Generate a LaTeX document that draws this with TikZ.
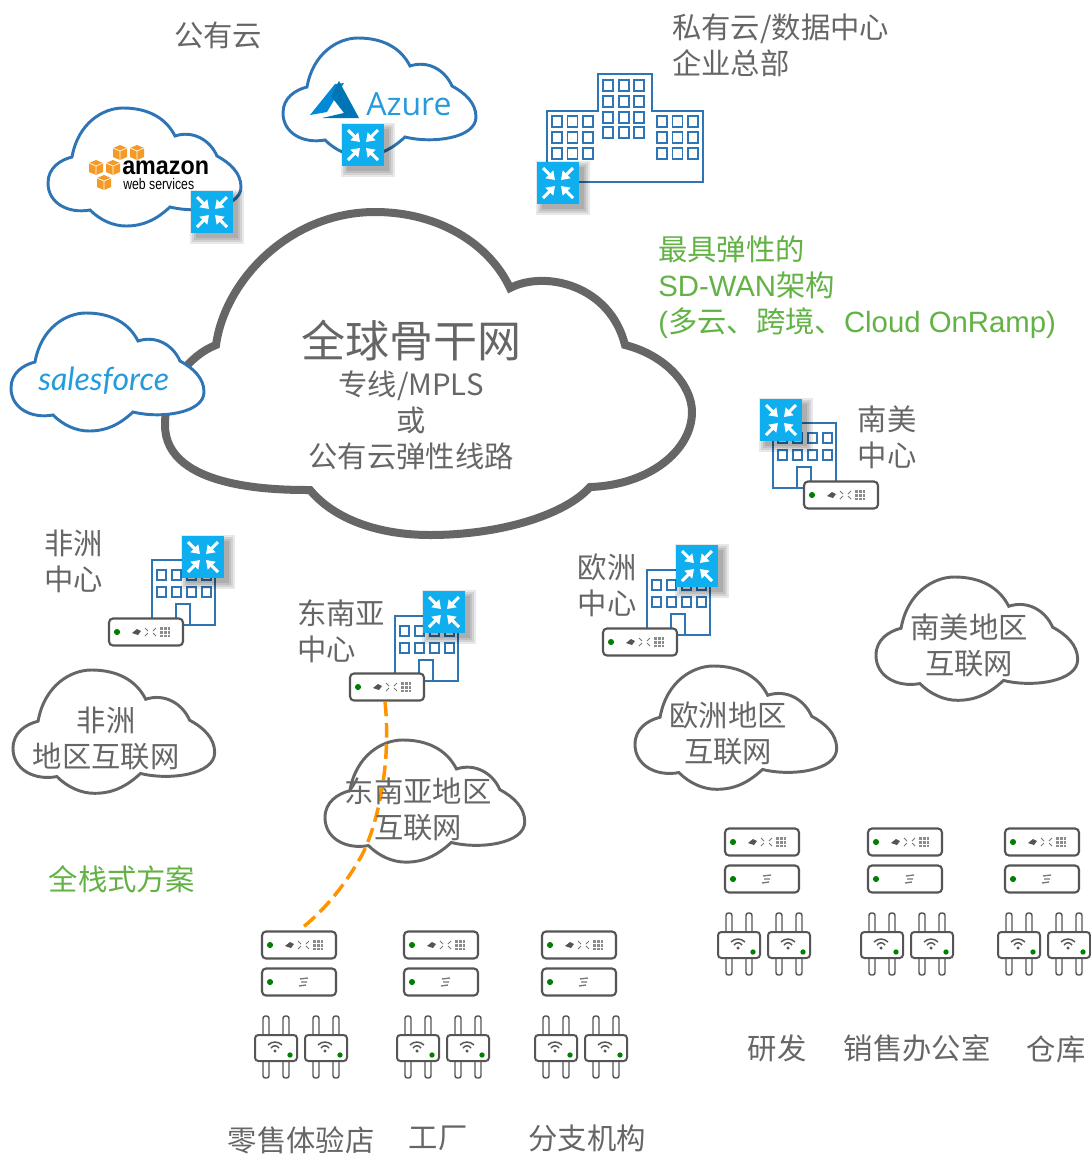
\documentclass[tikz,border=0pt]{standalone}
\usepackage{fontspec}
\usepackage{graphicx}
\setmainfont{Liberation Sans}
\newfontfamily\cjk{Noto Sans CJK SC}
\newfontfamily\azfont{Open Sans}
\newfontfamily\sffont{Lato}
\usetikzlibrary{arrows.meta}
\definecolor{tgrey}{HTML}{666666}
\definecolor{dgrey}{HTML}{555555}
\definecolor{lgreen}{HTML}{70AD47}
\definecolor{tgreen}{HTML}{62B245}
\definecolor{cblue}{HTML}{2E75B6}
\definecolor{rblue}{HTML}{0EAEEF}
\definecolor{aorange}{HTML}{F39A27}
\definecolor{azblue}{HTML}{0089D6}
\def\px{0.75pt}
\tikzset{
  x=0.75pt,y=-0.75pt,
  link/.style={draw=lgreen,line width=1pt},
  thincloud/.style={draw=tgrey,fill=white,line width=2.2pt},
  bluecloud/.style={draw=cblue,fill=white,line width=2.2pt},
  bigcloud/.style={draw=tgrey,fill=white,line width=6pt},
  routerbox/.style={fill=rblue,draw=none,minimum size=42*\px,inner sep=0pt},
  rarrow/.style={draw=white,line width=2.2pt,-{Triangle[length=6pt,width=8pt]}},
  devbox/.style={draw=dgrey,fill=white,line width=1.6pt,rounded corners=3pt,minimum width=74*\px,minimum height=27*\px,inner sep=0pt},
  apbox/.style={draw=dgrey,fill=white,line width=1.5pt,rounded corners=2.5pt,minimum width=42*\px,minimum height=26*\px,inner sep=0pt},
  antenna/.style={draw=dgrey,fill=white,line width=1.1pt,rounded corners=1.8pt},
  bld/.style={draw=cblue,line width=1.5pt},
  win/.style={draw=cblue,line width=1.3pt},
  ledg/.style={fill=green!50!black,draw=none},
  icon/.style={draw=dgrey!80,line width=.7pt},
  lbl/.style={inner sep=0pt,text=tgrey,align=center,font=\cjk\fontsize{22}{27}\selectfont},
  glbl/.style={inner sep=0pt,text=tgreen,align=left,font=\fontsize{22}{27}\selectfont},
}
% cloud outline: reference size 193x118 px, origin top-left
\newcommand\cloudpath[4]{% style, x, y, scale
\begin{scope}[shift={(#2,#3)},x=#4*\px,y=-#4*\px]
\path[#1] (24,49) .. controls (30,15) and (55,0) .. (75,0) .. controls (100,0) and (118,10) .. (127,28)
 .. controls (145,22) and (162,32) .. (169,48) .. controls (182,55) and (193,65) .. (193,79)
 .. controls (193,100) and (150,106) .. (122,99) .. controls (108,112) and (95,118) .. (78,118)
 .. controls (65,118) and (52,112) .. (42,102) .. controls (20,106) and (0,95) .. (0,75)
 .. controls (0,60) and (12,52) .. (24,49) -- cycle;
\end{scope}}
\newcommand\router[3]{% name,x,y
\foreach \s in {6,4,2,0}{\fill[black,opacity=.09] (#2+5-21-\s,#3+5-21-\s) rectangle (#2+5+21+\s,#3+5+21+\s);}
\node[routerbox] (#1) at (#2,#3) {};
\begin{scope}[shift={(#2,#3)}]
\draw[rarrow] (-15,-15) -- (-3,-3);
\draw[rarrow] (15,-15) -- (3,-3);
\draw[rarrow] (-15,15) -- (-3,3);
\draw[rarrow] (15,15) -- (3,3);
\end{scope}}
\newcommand\devA[3]{%
\node[devbox] (#1) at (#2,#3) {};
\begin{scope}[shift={(#2,#3)}]
\fill[ledg] (-29,0) circle (2.3pt);
\fill[dgrey] (-14,1) -- (-9,-3) -- (-5,-1) -- (-8,3) -- cycle;
\draw[icon] (-1,-4) -- (2,-1) (-1,4) -- (2,1) (10,-4) -- (7,-1) (10,4) -- (7,1);
\fill[black!45] (14,-5) rectangle (24,5);
\draw[white,line width=.4pt] (17,-5) -- (17,5) (21,-5) -- (21,5) (14,-2) -- (24,-2) (14,2) -- (24,2);
\end{scope}}
\newcommand\devB[3]{%
\node[devbox] (#1) at (#2,#3) {};
\begin{scope}[shift={(#2,#3)}]
\fill[ledg] (-29,0) circle (2.3pt);
\draw[icon,line width=1pt] (1,-3) -- (9,-4) (2,0) -- (8,0) (0,4) -- (7,3);
\end{scope}}
\newcommand\accesspoint[3]{%
\begin{scope}[shift={(#2,#3)}]
\path[antenna] (-13,-32) rectangle (-7,30);
\path[antenna] (7,-32) rectangle (13,30);
\node[apbox] (#1) at (0,0) {};
\fill[dgrey] (-1,3) circle (1.3pt);
\draw[dgrey,line width=1.1pt] (-5,0) .. controls (-3,-3) and (1,-3) .. (3,0);
\draw[dgrey,line width=1.1pt] (-8,-3) .. controls (-4,-7) and (2,-7) .. (6,-3);
\fill[ledg] (14,7) circle (2pt);
\end{scope}}
% device stack: name, centre x, row y of the first device
\newcommand\stack[3]{%
\devA{#1a}{#2}{#3}\devB{#1b}{#2}{#3+37}
\accesspoint{#1l}{#2-23}{#3+103}\accesspoint{#1r}{#2+27}{#3+103}}
\newcommand\smallbld[3]{%
\begin{scope}[shift={(#2,#3)}]
\path[bld,fill=white] (0,0) rectangle (63,65);
\foreach \cx in {5,20,35,50}{\foreach \cy in {10,27}{\path[win] (\cx,\cy) rectangle (\cx+9,\cy+10);}}
\path[bld] (24,65) -- (24,44) -- (38,44) -- (38,65);
\end{scope}}
\newcommand\cube[2]{%
\begin{scope}[shift={(#1,#2)}]
\fill[aorange] (-7,-4) -- (0,-7) -- (7,-4) -- (7,5) -- (0,8) -- (-7,5) -- cycle;
\draw[white,line width=.5pt] (-7,-4) -- (0,-1) -- (7,-4) (0,-1) -- (0,8);
\end{scope}}
\begin{document}
\begin{tikzpicture}
\useasboundingbox (0,0) rectangle (1090,1154);
\fill[white] (0,0) rectangle (1090,1154);
% cloud attachment points
\coordinate (mA) at (252,270);
\coordinate (mB) at (380,212);
\coordinate (mC) at (535,280);
\coordinate (mD) at (692,407);
\coordinate (mE) at (662,476);
\coordinate (mF) at (430,538);
\coordinate (mG) at (220,480);
\coordinate (saTop) at (950,580);
\coordinate (afTop) at (130,692);
\coordinate (euTop) at (697,670);
\coordinate (seTopA) at (400,745);
\coordinate (seTopB) at (406,745);
\coordinate (seBotA) at (350,842);
\coordinate (seBotB) at (412,862);
\coordinate (seBotC) at (426,862);
\coordinate (seBotD) at (505,842);
\coordinate (euBot) at (730,785);
% positions of the nodes come later: declare links after nodes, on a lower layer
\pgfdeclarelayer{back}\pgfsetlayers{back,main}
% clouds
\path[bigcloud] (216,345) .. controls (225,280) and (290,212) .. (375,212) .. controls (440,212) and (490,245) .. (510,288)
 .. controls (545,270) and (610,285) .. (625,345) .. controls (665,355) and (692,385) .. (692,412)
 .. controls (692,450) and (650,485) .. (590,487) .. controls (565,515) and (500,535) .. (430,535)
 .. controls (380,535) and (335,520) .. (310,490) .. controls (280,490) and (165,490) .. (165,425)
 .. controls (165,385) and (190,355) .. (216,345) -- cycle;
\cloudpath{bluecloud}{48}{108}{1}
\cloudpath{bluecloud}{283}{38}{1}
\cloudpath{bluecloud}{11}{313}{1}
\cloudpath{thincloud}{876}{577}{1.045}
\cloudpath{thincloud}{635}{666}{1.045}
\cloudpath{thincloud}{325}{740}{1.035}
\cloudpath{thincloud}{13}{670}{1.045}
% large data-centre building
\path[bld] (547,182) -- (547,111) -- (598,111) -- (598,74) -- (652,74) -- (652,111) -- (703,111) -- (703,182) -- cycle;
\foreach \cx in {552,567.5,583,657,672.5,688}{\foreach \cy in {116,132,148}{\path[win] (\cx,\cy) rectangle (\cx+10,\cy+11);}}
\foreach \cx in {603,619,634}{\foreach \cy in {80,96,112,127}{\path[win] (\cx,\cy) rectangle (\cx+10,\cy+11);}}
% small buildings
\smallbld{b1}{773}{423}
\smallbld{b2}{152}{560}
\smallbld{b3}{395}{616}
\smallbld{b4}{647}{570}
% routers
\router{rAws}{212}{212}
\router{rAz}{363}{145}
\router{rDc}{558}{183}
\router{rSa}{781}{420}
\router{rAf}{203}{557}
\router{rSe}{444}{612}
\router{rEu}{697}{566}
% hub devices
\devA{dSa}{841}{495}
\devA{dAf}{146}{632}
\devA{dSe}{387}{687}
\devA{dEu}{640}{642}
% branch stacks
\stack{s1}{299}{945}
\stack{s2}{441}{945}
\stack{s3}{579}{945}
\stack{s4}{762}{842}
\stack{s5}{905}{842}
\stack{s6}{1042}{842}
% connectors, under everything
\begin{pgfonlayer}{back}
\draw[link] (rAws.south) -- (mA);
\draw[link] (rAz.south) -- (mB);
\draw[link] (rDc.north) -- (mC);
\draw[link] (rSa.west) -- (mD);
\draw[link] (rEu.south) -- (mE);
\draw[link] (rSe.south) -- (mF);
\draw[link] (rAf.south) -- (mG);
\draw[link] (dSa.south) -- (saTop);
\draw[link] (dAf.south) -- (afTop);
\draw[link] (dEu.east) -- (euTop);
\draw[link] (dSe.south) -- (seTopA);
\draw[link] (dSe.south) ++(6,0) -- (seTopB);
\draw[link] (s1a.north) -- (seBotA);
\draw[link] (s2a.north) ++(-14,0) -- (seBotB);
\draw[link] (s2a.north) -- (seBotC);
\draw[link] (s3a.north) -- (seBotD);
\draw[link] (s4a.north) -- (euBot);
\draw[link] (s5a.north) -- (euBot);
\draw[link] (s6a.north) -- (euBot);
\end{pgfonlayer}
% orange dashed link over the cloud
\draw[draw=orange!85!yellow,line width=2.6pt,dash pattern=on 11pt off 5pt] (dSe.south) ++(-2,0) .. controls (392,770) and (375,830) .. (362,855) .. controls (345,885) and (325,910) .. (s1a.north);
% logos
\cube{120}{152}\cube{137}{152}\cube{96}{167}\cube{113}{167}\cube{104}{182}
\node[inner sep=0pt,anchor=west] (awsA) at (122,168) {\scalebox{.92}[1]{\fontsize{19}{20}\selectfont\bfseries amazon}};
\node[inner sep=0pt,anchor=west] (awsB) at (123,184) {\scalebox{.8}[1]{\fontsize{11.5}{12}\selectfont web services}};
\fill[azblue] (335,84) -- (310,115) -- (327,112) -- (344,83) -- cycle;
\fill[azblue!85!black] (339,81) -- (359,118) -- (322,118) -- (344,113) -- (331,96) -- cycle;
\node[inner sep=0pt,anchor=west,text=azblue!85!white] (azT) at (366,104) {\fontsize{24}{26}\azfont Azure};
\node[inner sep=0pt,anchor=west,text=azblue!85!white] (sfT) at (38,381) {\fontsize{24}{26}\sffont\itshape salesforce};
% labels
\node[lbl] (t1) at (218,35) {公有云};
\node[lbl,anchor=west,align=left] (t2) at (672,45) {私有云/数据中心\\企业总部};
\node[glbl,anchor=west] (t3) at (658,287) {{\cjk 最具弹性的}\\SD-WAN{\cjk 架构}\\({\cjk 多云、跨境、}Cloud OnRamp)};
\node[lbl,font=\cjk\fontsize{33}{36}\selectfont] (t4) at (411,341) {全球骨干网};
\node[lbl,font=\cjk\fontsize{22}{27}\selectfont] (t5) at (411,420) {专线/MPLS\\或\\公有云弹性线路};
\node[lbl] (t6) at (887,437) {南美\\中心};
\node[lbl] (t7) at (74,561) {非洲\\中心};
\node[lbl,align=left,anchor=west] (t8) at (297,631) {东南亚\\中心};
\node[lbl] (t9) at (607,585) {欧洲\\中心};
\node[lbl] (t10) at (969,645) {南美地区\\互联网};
\node[lbl] (t11) at (728,733) {欧洲地区\\互联网};
\node[lbl] (t12) at (418,809) {东南亚地区\\互联网};
\node[lbl] (t13) at (106,739) {非洲\\地区互联网};
\node[lbl,text=tgreen] (t14) at (122,879) {全栈式方案};
\node[lbl] (t15) at (777,1048) {研发};
\node[lbl] (t16) at (917,1048) {销售办公室};
\node[lbl] (t17) at (1056,1049) {仓库};
\node[lbl] (t18) at (301,1140) {零售体验店};
\node[lbl] (t19) at (438,1138) {工厂};
\node[lbl] (t20) at (587,1138) {分支机构};
\end{tikzpicture}
\end{document}
